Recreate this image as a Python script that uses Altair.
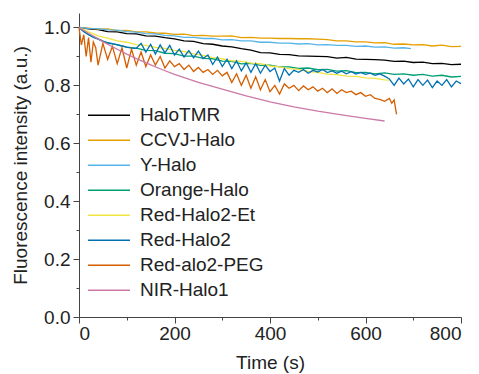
import altair as alt
import pandas as pd

series_names = ["HaloTMR", "CCVJ-Halo", "Y-Halo", "Orange-Halo",
                "Red-Halo2-Et", "Red-Halo2", "Red-alo2-PEG", "NIR-Halo1"]
series_colors = ["#000000", "#E69F00", "#56B4E9", "#009E73",
                 "#F0E442", "#0072B2", "#D55E00", "#CC79A7"]

t20 = [0, 20, 40, 60, 80, 100, 120, 140, 160, 180, 200, 220, 240, 260, 280, 300,
       320, 340, 360, 380, 400, 420, 440, 460, 480, 500, 520, 540, 560, 580, 600,
       620, 640, 660, 680, 700, 720, 740, 760, 780, 800]

halotmr = [1.000, 0.995, 0.993, 0.986, 0.985, 0.979, 0.978, 0.971, 0.970, 0.965,
           0.961, 0.954, 0.952, 0.944, 0.942, 0.936, 0.933, 0.927, 0.922, 0.913,
           0.912, 0.907, 0.906, 0.902, 0.901, 0.900, 0.899, 0.894, 0.897, 0.891,
           0.890, 0.889, 0.887, 0.883, 0.884, 0.879, 0.880, 0.875, 0.876, 0.872,
           0.873]

ccvj = [1.000, 0.998, 0.994, 0.995, 0.989, 0.990, 0.985, 0.985, 0.981, 0.980,
        0.976, 0.977, 0.972, 0.973, 0.970, 0.970, 0.971, 0.965, 0.966, 0.963,
        0.963, 0.962, 0.962, 0.961, 0.961, 0.960, 0.958, 0.954, 0.954, 0.950,
        0.950, 0.947, 0.948, 0.942, 0.943, 0.940, 0.941, 0.936, 0.939, 0.934,
        0.935]

t_yhalo = [0, 20, 40, 60, 80, 100, 120, 140, 160, 180, 200, 220, 240, 260, 280,
           300, 320, 340, 360, 380, 400, 420, 440, 460, 480, 500, 520, 540, 560,
           580, 600, 620, 640, 660, 680, 695]
yhalo = [1.000, 0.997, 0.996, 0.992, 0.991, 0.986, 0.984, 0.979, 0.978, 0.973,
         0.971, 0.966, 0.966, 0.962, 0.962, 0.957, 0.958, 0.954, 0.954, 0.949,
         0.949, 0.946, 0.946, 0.943, 0.944, 0.940, 0.941, 0.938, 0.938, 0.935,
         0.936, 0.932, 0.933, 0.929, 0.930, 0.927]

orange = [1.000, 0.976, 0.961, 0.946, 0.941, 0.932, 0.929, 0.921, 0.920, 0.911,
          0.910, 0.901, 0.901, 0.893, 0.892, 0.884, 0.883, 0.874, 0.876, 0.869,
          0.870, 0.864, 0.864, 0.859, 0.860, 0.854, 0.855, 0.849, 0.851, 0.844,
          0.845, 0.840, 0.843, 0.838, 0.840, 0.835, 0.838, 0.832, 0.835, 0.829,
          0.831]

t_et = [0, 20, 40, 60, 80, 100, 120, 140, 160, 180, 200, 220, 240, 260, 280, 300,
        320, 340, 360, 380, 400, 420, 440, 460, 480, 500, 520, 540, 560, 580, 600,
        620, 640, 650]
red_et = [1.000, 0.985, 0.971, 0.963, 0.954, 0.949, 0.941, 0.938, 0.931, 0.928,
          0.921, 0.917, 0.909, 0.904, 0.896, 0.892, 0.885, 0.883, 0.877, 0.875,
          0.867, 0.864, 0.858, 0.855, 0.848, 0.845, 0.839, 0.837, 0.832, 0.831,
          0.826, 0.824, 0.819, 0.818]

t10 = [0, 10, 20, 30, 40, 50, 60, 70, 80, 90, 100, 110, 120, 130, 140, 150, 160,
       170, 180, 190, 200, 210, 220, 230, 240, 250, 260, 270, 280, 290, 300, 310,
       320, 330, 340, 350, 360, 370, 380, 390, 400, 410, 420, 430, 440, 450, 460,
       470, 480, 490, 500, 510, 520, 530, 540, 550, 560, 570, 580, 590, 600, 610,
       620, 630, 640, 650, 660, 670, 680, 690, 700, 710, 720, 730, 740, 750, 760,
       770, 780, 790, 800]
red2 = [1.000, 0.985, 0.975, 0.966, 0.960, 0.952, 0.948, 0.944, 0.940, 0.936,
        0.932, 0.929, 0.928, 0.945, 0.915, 0.942, 0.908, 0.940, 0.912, 0.938,
        0.905, 0.925, 0.898, 0.920, 0.895, 0.918, 0.893, 0.905, 0.872, 0.898,
        0.865, 0.890, 0.858, 0.885, 0.850, 0.878, 0.845, 0.875, 0.842, 0.870,
        0.848, 0.860, 0.815, 0.858, 0.835, 0.852, 0.845, 0.855, 0.842, 0.852,
        0.846, 0.855, 0.844, 0.850, 0.842, 0.849, 0.840, 0.847, 0.839, 0.845,
        0.838, 0.842, 0.835, 0.840, 0.832, 0.822, 0.800, 0.825, 0.805, 0.822,
        0.795, 0.820, 0.800, 0.818, 0.792, 0.815, 0.800, 0.820, 0.795, 0.815,
        0.806]

t_peg = [0, 5, 10, 15, 20, 25, 30, 35, 40, 50, 60, 70, 80, 90, 100, 110, 120, 130,
         140, 150, 160, 170, 180, 190, 200, 210, 220, 230, 240, 250, 260, 270, 280,
         290, 300, 310, 320, 330, 340, 350, 360, 370, 380, 390, 400, 410, 420, 430,
         440, 450, 460, 470, 480, 490, 500, 510, 520, 530, 540, 550, 560, 570, 580,
         590, 600, 610, 620, 630, 640, 650, 655, 660, 665]
peg = [1.000, 0.940, 0.975, 0.900, 0.965, 0.880, 0.950, 0.930, 0.870, 0.945,
       0.890, 0.935, 0.875, 0.930, 0.860, 0.925, 0.870, 0.915, 0.865, 0.905,
       0.870, 0.900, 0.860, 0.885, 0.865, 0.875, 0.855, 0.870, 0.848, 0.862,
       0.845, 0.855, 0.838, 0.852, 0.833, 0.845, 0.810, 0.840, 0.800, 0.835,
       0.790, 0.830, 0.785, 0.820, 0.778, 0.800, 0.770, 0.805, 0.790, 0.800,
       0.782, 0.798, 0.785, 0.795, 0.780, 0.790, 0.775, 0.788, 0.772, 0.785,
       0.775, 0.780, 0.768, 0.775, 0.762, 0.768, 0.755, 0.752, 0.745, 0.755,
       0.738, 0.750, 0.700]

t_nir = [0, 25, 50, 75, 100, 125, 150, 175, 200, 250, 300, 350, 400, 450, 500,
         550, 600, 640]
nir = [1.000, 0.975, 0.951, 0.929, 0.908, 0.889, 0.871, 0.854, 0.838, 0.810,
       0.787, 0.764, 0.743, 0.726, 0.711, 0.698, 0.686, 0.677]

x_major = [0, 200, 400, 600, 800]
x_minor = [100, 300, 500, 700]
y_major = [0.0, 0.2, 0.4, 0.6, 0.8, 1.0]
y_minor = [0.1, 0.3, 0.5, 0.7, 0.9]

pairs = [(t20, halotmr), (t20, ccvj), (t_yhalo, yhalo), (t20, orange),
         (t_et, red_et), (t10, red2), (t_peg, peg), (t_nir, nir)]
rows = []
for idx, (name, (ts, vs)) in enumerate(zip(series_names, pairs)):
    for t, v in zip(ts, vs):
        rows.append({"time": t, "value": v, "series": name, "k": idx})
df = pd.DataFrame(rows)

FONT = "Liberation Sans"
xscale = alt.Scale(domain=[0, 800], nice=False, zero=False)
yscale = alt.Scale(domain=[0, 1.05], nice=False)

lines = alt.Chart(df).mark_line(strokeWidth=1.3).encode(
    x=alt.X("time:Q", scale=xscale,
            axis=alt.Axis(title="Time (s)", values=x_major, format="d",
                          tickSize=6, labelPadding=1, titlePadding=10)),
    y=alt.Y("value:Q", scale=yscale,
            axis=alt.Axis(title="Fluorescence intensity (a.u.)", values=y_major,
                          format=".1f", tickSize=6, labelPadding=3,
                          titlePadding=13)),
    color=alt.Color("series:N",
                    scale=alt.Scale(domain=series_names, range=series_colors),
                    legend=alt.Legend(title=None, orient="none", legendX=8,
                                      legendY=90, symbolType="stroke",
                                      symbolSize=1764, symbolStrokeWidth=1.5,
                                      labelFontSize=19, labelFont=FONT,
                                      labelColor="#222", rowPadding=0,
                                      clipHeight=24.4, labelOffset=9)),
    order=alt.Order("k:Q"),
)

minor = alt.Chart(df).mark_point(opacity=0).encode(
    x=alt.X("time:Q", scale=xscale,
            axis=alt.Axis(title=None, values=x_minor, labels=False, domain=False,
                          tickSize=3, orient="bottom")),
    y=alt.Y("value:Q", scale=yscale,
            axis=alt.Axis(title=None, values=y_minor, labels=False, domain=False,
                          tickSize=3, orient="left")),
)

chart = alt.layer(lines, minor).resolve_axis(x="independent", y="independent").properties(
    width=382, height=304,
    autosize=alt.AutoSizeParams(type="none"),
    padding={"left": 71, "top": 5, "right": 10, "bottom": 58},
).configure_view(strokeWidth=0).configure_axis(
    labelFont=FONT, titleFont=FONT, labelFontSize=19, titleFontSize=19,
    titleFontWeight="normal", labelColor="#222", titleColor="#222",
    domainColor="#444", tickColor="#444", grid=False,
)

chart.save("out.html", embed_options={"renderer": "svg", "actions": False})
